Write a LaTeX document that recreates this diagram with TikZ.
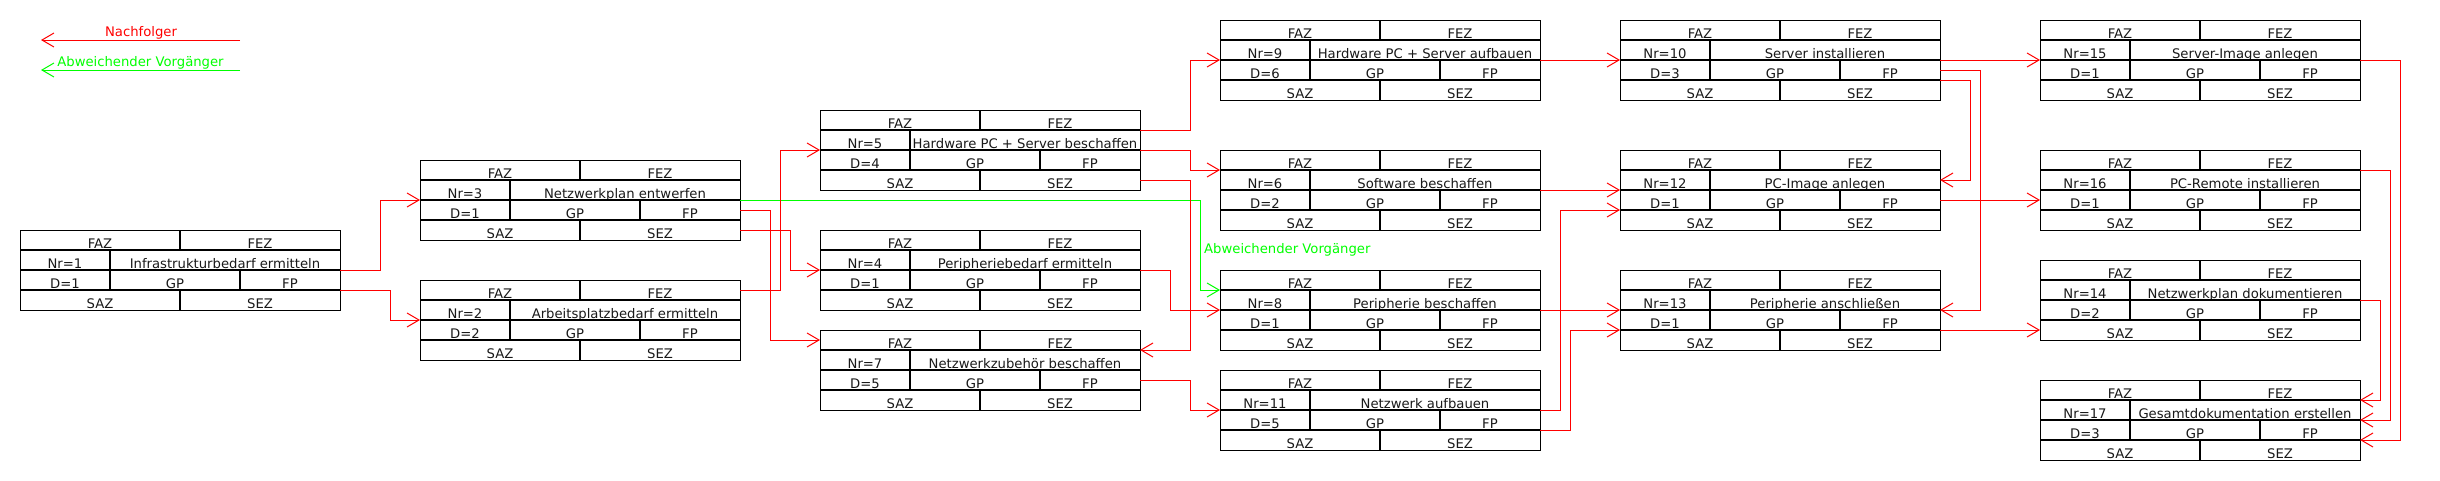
\documentclass[tikz,border=0pt]{standalone}
\usepackage{fontspec}
\setmainfont{DejaVu Sans}
\usetikzlibrary{arrows.meta,calc}
\definecolor{succred}{RGB}{255,0,0}
\definecolor{altgreen}{RGB}{0,255,0}
\tikzset{
  frame/.style={draw=black, line width=1pt, minimum width=320pt, minimum height=80pt, inner sep=0pt, outer sep=0pt},
  txt/.style={anchor=base, inner sep=0pt, font=\fontsize{13.2pt}{15pt}\selectfont, text=black!90},
  innerh/.style={draw=black, line width=1.8pt},
  innerv/.style={draw=black, line width=1.5pt},
  tip/.style={-{Straight Barb[length=12pt,width=14pt]}},
  succ/.style={draw=succred, line width=1pt, tip},
  alt/.style={draw=altgreen, line width=1pt, tip},
  legtxt/.style={anchor=base, inner sep=0pt, font=\fontsize{13.2pt}{15pt}\selectfont},
}
\newcommand\mkbox[6]{%
  \node[frame, anchor=north west] (b#1) at (#2,#3) {};
  \node[txt] (b#1faz) at ([shift={(80pt,-18pt)}]b#1.north west) {FAZ};
  \node[txt] (b#1fez) at ([shift={(240pt,-18pt)}]b#1.north west) {FEZ};
  \node[txt] (b#1nr) at ([shift={(45pt,-38pt)}]b#1.north west) {Nr=#4};
  \node[txt] (b#1name) at ([shift={(205pt,-38pt)}]b#1.north west) {#5};
  \node[txt] (b#1d) at ([shift={(45pt,-58pt)}]b#1.north west) {D=#6};
  \node[txt] (b#1gp) at ([shift={(155pt,-58pt)}]b#1.north west) {GP};
  \node[txt] (b#1fp) at ([shift={(270pt,-58pt)}]b#1.north west) {FP};
  \node[txt] (b#1saz) at ([shift={(80pt,-78pt)}]b#1.north west) {SAZ};
  \node[txt] (b#1sez) at ([shift={(240pt,-78pt)}]b#1.north west) {SEZ};
  \draw[innerh] ([yshift=-20pt]b#1.north west) -- ([yshift=-20pt]b#1.north east);
  \draw[innerh] ([yshift=-40pt]b#1.north west) -- ([yshift=-40pt]b#1.north east);
  \draw[innerh] ([yshift=-60pt]b#1.north west) -- ([yshift=-60pt]b#1.north east);
  \draw[innerv] ([xshift=160pt]b#1.north west) -- ++(0,20);
  \draw[innerv] ([shift={(90pt,-20pt)}]b#1.north west) -- ++(0,40);
  \draw[innerv] ([shift={(220pt,-40pt)}]b#1.north west) -- ++(0,20);
  \draw[innerv] ([shift={(160pt,-60pt)}]b#1.north west) -- ++(0,20);
}
\begin{document}
\begin{tikzpicture}[x=1pt,y=-1pt]
\fill[white] (0,0) rectangle (2440,480);
\useasboundingbox (0,0) rectangle (2440,480);

% legend
\coordinate (l1s) at (240,40);
\coordinate (l1e) at (41,40);
\coordinate (l2s) at (240,70);
\coordinate (l2e) at (41,70);
\draw[succ] (l1s) -- (l1e);
\draw[alt] (l2s) -- (l2e);
\node[legtxt, text=succred] (legsucc) at (141,36) {Nachfolger};
\node[legtxt, text=altgreen] (legalt) at (140.5,66) {Abweichender Vorgänger};

% boxes
\mkbox{1}{20}{230}{1}{Infrastrukturbedarf ermitteln}{1}
\mkbox{3}{420}{160}{3}{Netzwerkplan entwerfen}{1}
\mkbox{2}{420}{280}{2}{Arbeitsplatzbedarf ermitteln}{2}
\mkbox{5}{820}{110}{5}{Hardware PC + Server beschaffen}{4}
\mkbox{4}{820}{230}{4}{Peripheriebedarf ermitteln}{1}
\mkbox{7}{820}{330}{7}{Netzwerkzubehör beschaffen}{5}
\mkbox{9}{1220}{20}{9}{Hardware PC + Server aufbauen}{6}
\mkbox{6}{1220}{150}{6}{Software beschaffen}{2}
\mkbox{8}{1220}{270}{8}{Peripherie beschaffen}{1}
\mkbox{11}{1220}{370}{11}{Netzwerk aufbauen}{5}
\mkbox{10}{1620}{20}{10}{Server installieren}{3}
\mkbox{12}{1620}{150}{12}{PC-Image anlegen}{1}
\mkbox{13}{1620}{270}{13}{Peripherie anschließen}{1}
\mkbox{15}{2040}{20}{15}{Server-Image anlegen}{1}
\mkbox{16}{2040}{150}{16}{PC-Remote installieren}{1}
\mkbox{14}{2040}{260}{14}{Netzwerkplan dokumentieren}{2}
\mkbox{17}{2040}{380}{17}{Gesamtdokumentation erstellen}{3}

% connectors
\draw[succ] ([yshift=-40pt]b1.north east) -- ++(40,0) |- ([yshift=-40pt]b3.north west);
\draw[succ] ([yshift=-60pt]b1.north east) -- ++(50,0) |- ([yshift=-40pt]b2.north west);
\draw[alt] ([yshift=-40pt]b3.north east) -- ++(460,0) |- ([yshift=-20pt]b8.north west);
\node[legtxt, anchor=base west, text=altgreen] (glabel) at (1204,253) {Abweichender Vorgänger};
\draw[succ] ([yshift=-50pt]b3.north east) -- ++(30,0) |- ([yshift=-10pt]b7.north west);
\draw[succ] ([yshift=-70pt]b3.north east) -- ++(50,0) |- ([yshift=-40pt]b4.north west);
\draw[succ] ([yshift=-10pt]b2.north east) -- ++(40,0) |- ([yshift=-40pt]b5.north west);
\draw[succ] ([yshift=-20pt]b5.north east) -- ++(50,0) |- ([yshift=-40pt]b9.north west);
\draw[succ] ([yshift=-40pt]b5.north east) -- ++(50,0) |- ([yshift=-20pt]b6.north west);
\draw[succ] ([yshift=-70pt]b5.north east) -- ++(50,0) |- ([yshift=-20pt]b7.north east);
\draw[succ] ([yshift=-40pt]b4.north east) -- ++(30,0) |- ([yshift=-40pt]b8.north west);
\draw[succ] ([yshift=-50pt]b7.north east) -- ++(50,0) |- ([yshift=-40pt]b11.north west);
\draw[succ] ([yshift=-40pt]b9.north east) -- ([yshift=-40pt]b10.north west);
\draw[succ] ([yshift=-40pt]b6.north east) -- ([yshift=-40pt]b12.north west);
\draw[succ] ([yshift=-40pt]b11.north east) -- ++(20,0) |- ([yshift=-60pt]b12.north west);
\draw[succ] ([yshift=-40pt]b8.north east) -- ([yshift=-40pt]b13.north west);
\draw[succ] ([yshift=-60pt]b11.north east) -- ++(30,0) |- ([yshift=-60pt]b13.north west);
\draw[succ] ([yshift=-40pt]b10.north east) -- ([yshift=-40pt]b15.north west);
\draw[succ] ([yshift=-50pt]b10.north east) -- ++(40,0) |- ([yshift=-40pt]b13.north east);
\draw[succ] ([yshift=-60pt]b10.north east) -- ++(30,0) |- ([yshift=-30pt]b12.north east);
\draw[succ] ([yshift=-50pt]b12.north east) -- ([yshift=-50pt]b16.north west);
\draw[succ] ([yshift=-60pt]b13.north east) -- ([yshift=-70pt]b14.north west);
\draw[succ] ([yshift=-40pt]b15.north east) -- ++(40,0) |- ([yshift=-60pt]b17.north east);
\draw[succ] ([yshift=-20pt]b16.north east) -- ++(30,0) |- ([yshift=-40pt]b17.north east);
\draw[succ] ([yshift=-40pt]b14.north east) -- ++(20,0) |- ([yshift=-20pt]b17.north east);
\end{tikzpicture}
\end{document}
